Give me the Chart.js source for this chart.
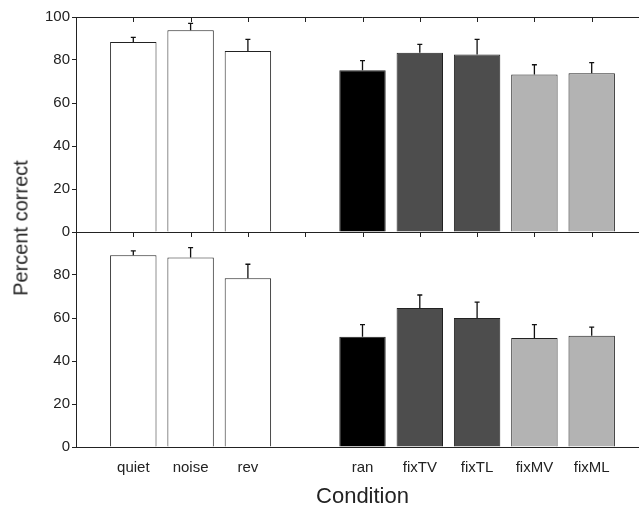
<!DOCTYPE html>
<html>
<head>
<meta charset="utf-8">
<script src="https://cdn.jsdelivr.net/npm/chart.js@4"></script>
<style>
  html, body { margin: 0; padding: 0; background: #fff; }
  #wrap { position: relative; width: 639px; height: 508px; overflow: hidden; }
  #wrap canvas { position: absolute; left: 0; }
  #topChart { top: 0; }
  #bottomChart { top: 220px; }
  #ytitle {
    position: absolute; left: 21px; top: 228px;
    transform: translate(-50%, -50%) rotate(-90deg);
    font: 20px "Liberation Sans", Arial, sans-serif; color: #222; white-space: nowrap;
  }
</style>
</head>
<body>
<div id="wrap">
  <canvas id="topChart" width="660" height="244"></canvas>
  <canvas id="bottomChart" width="660" height="288"></canvas>
  <div id="ytitle">Percent correct</div>
</div>
<script>
// conditions, in plotting order (a gap sits between rev and ran)
const categories = ['quiet', 'noise', 'rev', 'ran', 'fixTV', 'fixTL', 'fixMV', 'fixML'];
const barColors = ['#ffffff', '#ffffff', '#ffffff', '#000000', '#4d4d4d', '#4d4d4d', '#b3b3b3', '#b3b3b3'];

// upper panel
const topValues = [88.4, 93.8, 84.2, 75.2, 83.4, 82.6, 73.3, 73.8];
const topErrors = [2.1, 3.2, 5.4, 4.5, 3.9, 7.0, 4.5, 5.0];

// lower panel
const bottomValues = [89.2, 88.1, 78.5, 51.3, 64.7, 60.0, 50.7, 51.8];
const bottomErrors = [2.0, 4.6, 6.5, 5.6, 6.0, 7.4, 6.2, 4.0];

const yTicks = [0, 20, 40, 60, 80, 100];

// slots on the x axis: empty one at each end and one between the groups
const slotIndex = [1, 2, 3, 5, 6, 7, 8, 9];
const slotCount = 11;
const fontFamily = '"Liberation Sans", Arial, sans-serif';

function toSlots(arr, fill) {
  const out = new Array(slotCount).fill(fill);
  slotIndex.forEach((s, i) => { out[s] = arr[i]; });
  return out;
}

const slotLabels = toSlots(categories, '');

// frame lines, top tick marks and error bars
const framePlugin = {
  id: 'frame',
  afterDatasetsDraw(chart, args, opts) {
    const ctx = chart.ctx;
    const area = chart.chartArea;
    const xs = chart.scales.x;
    const ys = chart.scales.y;
    ctx.save();

    // error bars (upward only)
    const meta = chart.getDatasetMeta(0);
    const errs = opts.errors;
    const vals = chart.data.datasets[0].data;
    ctx.lineWidth = 1.3;
    ctx.strokeStyle = '#111';
    for (let i = 0; i < vals.length; i++) {
      if (vals[i] == null) continue;
      const x = meta.data[i].x;
      const y0 = ys.getPixelForValue(vals[i]);
      const y1 = ys.getPixelForValue(vals[i] + errs[i]);
      ctx.beginPath();
      ctx.moveTo(x, y0);
      ctx.lineTo(x, y1);
      ctx.moveTo(x - 2.5, y1);
      ctx.lineTo(x + 2.5, y1);
      ctx.stroke();
    }

    ctx.lineWidth = 1;
    ctx.strokeStyle = '#222';
    // top border
    ctx.beginPath();
    ctx.moveTo(area.left, Math.round(area.top) + 0.5);
    ctx.lineTo(area.right, Math.round(area.top) + 0.5);
    if (opts.bottomLine) {
      ctx.moveTo(area.left, Math.round(area.bottom) + 0.5);
      ctx.lineTo(area.right, Math.round(area.bottom) + 0.5);
    }
    // inward tick marks on the top border
    for (let i = 1; i < slotCount - 1; i++) {
      const x = Math.round(xs.getPixelForValue(i)) + 0.5;
      ctx.moveTo(x, area.top);
      ctx.lineTo(x, area.top + 5);
    }
    ctx.stroke();
    ctx.restore();
  }
};

function makeChart(id, values, errors, isBottom) {
  const data = {
    labels: slotLabels,
    datasets: [{
      data: toSlots(values, null),
      backgroundColor: toSlots(barColors, '#fff'),
      borderColor: '#222',
      borderWidth: 1,
      barPercentage: 0.81,
      categoryPercentage: 1
    }]
  };

  const options = {
    responsive: false,
    animation: false,
    devicePixelRatio: 1,
    layout: {
      padding: isBottom ? { top: 12, right: 11, bottom: 0, left: 0 } : { top: 17, right: 11, bottom: 12, left: 0 }
    },
    plugins: {
      legend: { display: false },
      tooltip: { enabled: false },
      frame: { errors: toSlots(errors, 0), bottomLine: !isBottom }
    },
    scales: {
      x: {
        display: isBottom,
        offset: false,
        grid: { display: false },
        border: { display: true, color: '#222', width: 1 },
        ticks: {
          autoSkip: false,
          maxRotation: 0,
          padding: 4,
          color: '#222',
          font: { family: fontFamily, size: 15 }
        },
        title: {
          display: true,
          text: 'Condition',
          color: '#222',
          padding: { top: 0, bottom: 0 },
          font: { family: fontFamily, size: 22, lineHeight: 1.0 }
        },
        afterFit(scale) { scale.height = isBottom ? 61 : 0; }
      },
      y: {
        min: 0,
        max: 100,
        afterBuildTicks(scale) { scale.ticks = yTicks.map(v => ({ value: v })); },
        grid: { drawOnChartArea: false, drawTicks: true, tickLength: 4, color: '#222' },
        border: { display: true, color: '#222', width: 1 },
        ticks: {
          padding: 2,
          color: '#222',
          font: { family: fontFamily, size: 15 },
          callback: v => (isBottom && v === 100) ? '' : v
        },
        afterFit(scale) { scale.width = 76; }
      }
    }
  };

  return new Chart(document.getElementById(id).getContext('2d'), {
    type: 'bar',
    data: data,
    options: options,
    plugins: [framePlugin]
  });
}

makeChart('topChart', topValues, topErrors, false);
makeChart('bottomChart', bottomValues, bottomErrors, true);
</script>
</body>
</html>
